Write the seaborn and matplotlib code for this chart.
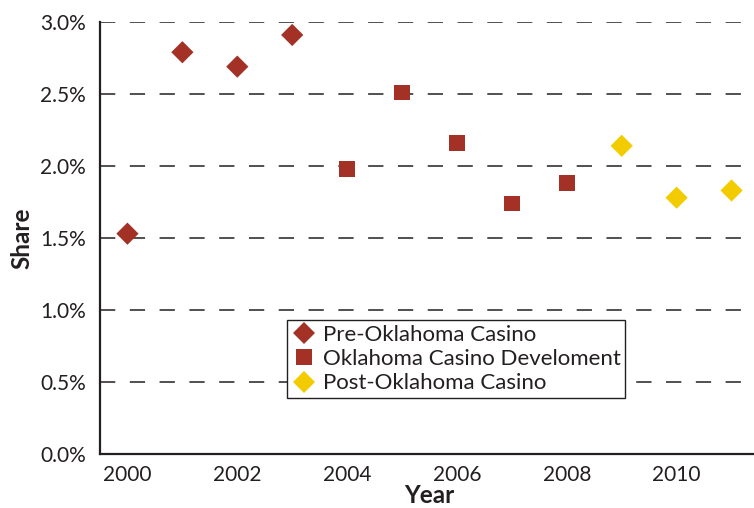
import pandas as pd
import numpy as np
import matplotlib
matplotlib.use("Agg")
import matplotlib.pyplot as plt
from matplotlib.ticker import PercentFormatter, FixedLocator
import seaborn as sns

# values (share, in percent)
pre_years = [2000, 2001, 2002, 2003]
pre_share = [1.53, 2.79, 2.69, 2.91]
dev_years = [2004, 2005, 2006, 2007, 2008]
dev_share = [1.98, 2.51, 2.16, 1.74, 1.88]
post_years = [2009, 2010, 2011]
post_share = [2.14, 1.78, 1.83]

phases = ["Pre-Oklahoma Casino", "Oklahoma Casino Develoment", "Post-Oklahoma Casino"]
colors = ["#A33125", "#A33125", "#F2CC00"]
markers = ["D", "s", "D"]
year_labels = [2000, 2002, 2004, 2006, 2008, 2010]

df = pd.DataFrame({
    "Year": pre_years + dev_years + post_years,
    "Share": np.array(pre_share + dev_share + post_share) / 100,
    "Phase": [phases[0]] * len(pre_years) + [phases[1]] * len(dev_years) + [phases[2]] * len(post_years),
})

sns.set_style("white")
plt.rcParams["font.family"] = ["Lato", "DejaVu Sans"]
ink = "#231F20"

fig = plt.figure(figsize=(7.54, 5.08), dpi=100)
ax = fig.add_axes([100 / 754, 54 / 508, 659 / 754, 432 / 508])

sns.scatterplot(data=df, x="Year", y="Share", hue="Phase", style="Phase",
                palette=dict(zip(phases, colors)), markers=dict(zip(phases, markers)),
                s=128, linewidth=0, ax=ax, zorder=3)

ax.set_xlim(1999.5, 2011.5)
ax.set_ylim(0, 0.03)
ax.yaxis.set_major_locator(FixedLocator(np.arange(0, 0.0301, 0.005)))
ax.yaxis.set_major_formatter(PercentFormatter(xmax=1, decimals=1))
ax.set_xticks(year_labels)
ax.set_xticks(np.arange(2000.5, 2011, 1), minor=True)
ax.tick_params(axis="x", which="major", length=0, pad=8, labelsize=15, colors=ink)
ax.tick_params(axis="x", which="minor", direction="in", length=9, width=1.3, color=ink)
ax.tick_params(axis="y", length=0, pad=10, labelsize=15, colors=ink)

ax.grid(axis="y", color=ink, linewidth=1.1, linestyle=(0, (10, 9.5)))
ax.grid(axis="x", visible=False)
for side in ["top", "right"]:
    ax.spines[side].set_visible(False)
for side in ["left", "bottom"]:
    ax.spines[side].set_color(ink)
    ax.spines[side].set_linewidth(1.6)

ax.set_xlabel("Year", fontsize=17.5, fontweight="bold", color=ink, labelpad=-1)
ax.set_ylabel("Share", fontsize=17.5, fontweight="bold", color=ink, labelpad=5)

handles, labels = ax.get_legend_handles_labels()
leg = ax.legend(handles, labels, loc="lower left", bbox_to_anchor=(0.284, 0.13),
                borderaxespad=0, fontsize=16, frameon=True, fancybox=False,
                framealpha=1, edgecolor=ink, handletextpad=0.3, labelspacing=0.2,
                borderpad=0.2, handlelength=1.1)
leg.get_frame().set_linewidth(1.0)
for t in leg.get_texts():
    t.set_color(ink)

fig.savefig("out.png", dpi=100)
